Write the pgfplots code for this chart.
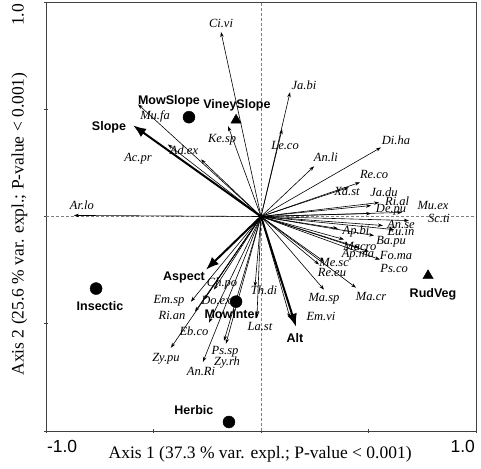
\documentclass[border=0pt]{standalone}
\usepackage{pgfplots}
\pgfplotsset{compat=1.18}
\usepackage{pgfplotstable}
\usepackage{fontspec}
\setmainfont{Liberation Serif}
\newfontfamily\arial{Liberation Sans}
\usetikzlibrary{arrows.meta}

\pgfplotstableread{
x y u v
0 0 -0.870 0.005
0 0 -0.572 0.523
0 0 -0.433 0.336
0 0 -0.279 0.266
0 0 -0.153 0.421
0 0 -0.186 0.860
0 0 0.135 0.579
0 0 0.098 0.407
0 0 0.558 0.322
0 0 0.247 0.234
0 0 0.460 0.159
0 0 0.409 0.136
0 0 0.549 0.065
0 0 0.512 0.051
0 0 0.512 0.014
0 0 0.656 0.019
0 0 0.688 -0.019
0 0 0.567 -0.042
0 0 0.619 -0.061
0 0 0.358 -0.056
0 0 0.526 -0.089
0 0 0.386 -0.107
0 0 0.456 -0.145
0 0 0.553 -0.201
0 0 0.502 -0.164
0 0 0.270 -0.224
0 0 0.293 -0.210
0 0 0.293 -0.341
0 0 0.442 -0.332
0 0 0.135 -0.472
0 0 -0.028 -0.327
0 0 -0.019 -0.472
0 0 -0.163 -0.593
0 0 -0.172 -0.579
0 0 -0.270 -0.678
0 0 -0.419 -0.612
0 0 -0.242 -0.495
0 0 -0.307 -0.444
0 0 -0.265 -0.388
0 0 -0.326 -0.397
0 0 -0.219 -0.341
}\speciesarrows

\pgfplotstableread{
x y u v
0 0 -0.595 0.425
0 0 -0.256 -0.248
0 0 0.163 -0.514
}\envarrows

\pgfplotstableread{
x y label
-0.833 0.051 Ar.lo
-0.493 0.467 Mu.fa
-0.358 0.308 Ad.ex
-0.572 0.271 Ac.pr
-0.181 0.360 Ke.sp
-0.186 0.902 Ci.vi
0.200 0.612 Ja.bi
0.112 0.332 Le.co
0.628 0.355 Di.ha
0.302 0.276 An.li
0.526 0.196 Re.co
0.400 0.117 Xa.st
0.572 0.112 Ja.du
0.633 0.070 Ri.al
0.800 0.051 Mu.ex
0.605 0.033 De.pu
0.828 -0.009 Sc.ti
0.651 -0.037 An.se
0.651 -0.070 Eu.in
0.442 -0.070 Ap.bi
0.605 -0.117 Ba.pu
0.460 -0.140 Macro
0.451 -0.178 Ap.ma
0.628 -0.182 Fo.ma
0.619 -0.243 Ps.co
0.340 -0.215 Me.sc
0.330 -0.262 Re.eu
0.293 -0.383 Ma.sp
0.512 -0.374 Ma.cr
0.279 -0.467 Em.vi
0.014 -0.346 Th.di
-0.005 -0.514 La.st
-0.181 -0.313 Ch.po
-0.428 -0.393 Em.sp
-0.209 -0.393 Do.ex
-0.414 -0.463 Ri.an
-0.312 -0.537 Eb.co
-0.442 -0.664 Zy.pu
-0.279 -0.724 An.Ri
-0.167 -0.631 Ps.sp
-0.158 -0.682 Zy.rh
}\specieslabels

\pgfplotstableread{
x y label
-0.707 0.416 Slope
-0.358 -0.285 Aspect
0.158 -0.565 Alt
-0.428 0.537 MowSlope
-0.112 0.519 VineySlope
-0.749 -0.416 Insectic
-0.135 -0.458 MowInter
-0.312 -0.902 Herbic
0.800 -0.364 RudVeg
}\envlabels

\pgfplotstableread{
x y
-0.335 0.463
-0.767 -0.336
-0.116 -0.397
-0.149 -0.958
}\circlepts

\pgfplotstableread{
x y
-0.116 0.449
0.777 -0.276
}\trianglepts

\begin{document}
\begin{tikzpicture}
\begin{axis}[
  scale only axis,
  width=430pt, height=429pt,
  xmin=-1, xmax=1, ymin=-1, ymax=1,
  axis line style={draw=black!75, line width=0.8pt},
  xtick={-1,-0.5,0,0.5,1}, ytick={-1,-0.5,0,0.5,1},
  xticklabels={}, yticklabels={},
  xtick pos=bottom, ytick pos=left,
  tick align=center, major tick length=4pt,
  tick style={black!75, line width=0.6pt},
  clip=false,
  xlabel={Axis 1 (37.3 \% var. expl.; P-value < 0.001)},
  ylabel={Axis 2 (25.6 \% var. expl.; P-value < 0.001)},
  label style={font=\fontsize{17.5}{20}\selectfont},
  xlabel style={at={(axis description cs:0.498,-0.054)}, anchor=center},
  ylabel style={at={(axis description cs:-0.062,0.4825)}, anchor=center},
]
\addplot[gray, densely dashed, line width=0.5pt] coordinates {(-1,0) (1,0)};
\addplot[gray, densely dashed, line width=0.5pt] coordinates {(0,-1) (0,1)};

\addplot[black, line width=0.6pt, -{Stealth[length=5pt,width=3.5pt]},
  quiver={u=\thisrow{u}, v=\thisrow{v}}] table[x=x, y=y] {\speciesarrows};
\addplot[black, line width=2pt, -{Latex[length=13pt,width=10pt]},
  quiver={u=\thisrow{u}, v=\thisrow{v}}] table[x=x, y=y] {\envarrows};

\addplot[only marks, mark=*, mark size=6pt, black] table[x=x, y=y] {\circlepts};
\addplot[only marks, mark=triangle*, mark size=6pt, black] table[x=x, y=y] {\trianglepts};

\addplot[only marks, mark=none, nodes near coords, point meta=explicit symbolic,
  nodes near coords style={anchor=center, inner sep=0pt, font=\fontsize{12.5}{14}\selectfont\itshape}]
  table[x=x, y=y, meta=label] {\specieslabels};
\addplot[only marks, mark=none, nodes near coords, point meta=explicit symbolic,
  nodes near coords style={anchor=center, inner sep=0pt, font=\arial\bfseries\fontsize{12.5}{14}\selectfont}]
  table[x=x, y=y, meta=label] {\envlabels};

\node[anchor=north west, inner sep=0pt, font=\arial\fontsize{17.5}{20}\selectfont] at (axis description cs:0.002,-0.021) {-1.0};
\node[anchor=north east, inner sep=0pt, font=\arial\fontsize{17.5}{20}\selectfont] at (axis description cs:0.998,-0.021) {1.0};
\node[rotate=90, anchor=center, inner sep=0pt, font=\fontsize{17.5}{20}\selectfont] at (axis description cs:-0.065,0.97) {1.0};
\end{axis}
\pgfresetboundingbox
\path ([shift={(-46pt,-37pt)}]current axis.south west) rectangle ([shift={(5pt,2pt)}]current axis.north east);
\end{tikzpicture}
\end{document}
